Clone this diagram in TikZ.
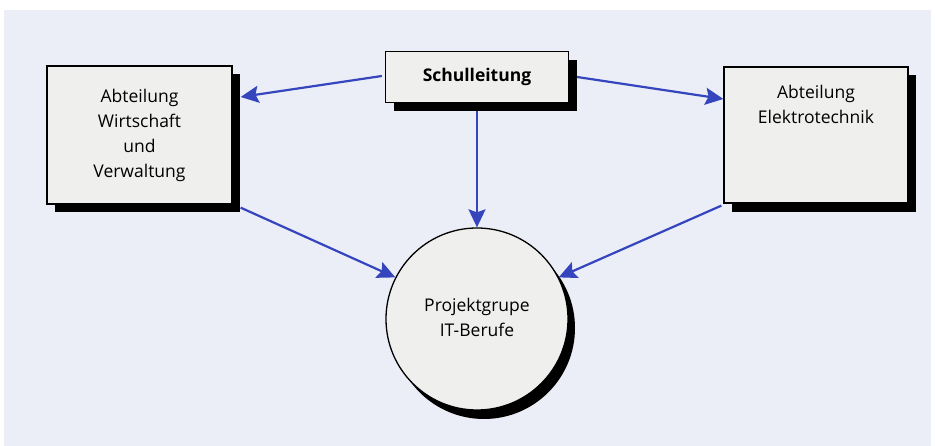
\documentclass[tikz,border=0pt]{standalone}
\usepackage{fontspec}
\setmainfont{Open Sans}
\usetikzlibrary{arrows.meta,calc}
\definecolor{panel}{HTML}{EBEEF7}
\definecolor{boxfill}{HTML}{EFEFEE}
\definecolor{arrowblue}{HTML}{3545BE}
\tikzset{
  box/.style={draw=black, line width=1.3pt, fill=boxfill, rectangle, inner sep=0pt},
  shade8/.style={fill=black, draw=none},
  lbl/.style={align=center, font=\fontsize{17.5}{25}\selectfont, inner sep=0pt},
  conn/.style={draw=arrowblue, line width=2.2pt,
    -{Stealth[length=18pt,width=17pt,inset=3pt]}}
}
\begin{document}
\begin{tikzpicture}[x=1pt,y=-1pt]
  \useasboundingbox (0,0) rectangle (935,446);
  \fill[white] (0,0) rectangle (935,446);
  \fill[panel] (4,10) rectangle (931,446);

  % drop shadows
  \fill[shade8] (394,60) rectangle (577,111);
  \fill[shade8] (55,74) rectangle (240,212);
  \fill[shade8] (732,75) rectangle (916,212);
  \fill[shade8] (484,328) circle (91);

  % boxes
  \node[box, minimum width=183pt, minimum height=51pt] (sl) at (477,77) {};
  \node[box, minimum width=185pt, minimum height=138pt] (lw) at (139.5,135) {};
  \node[box, minimum width=184pt, minimum height=136pt] (et) at (816,135) {};
  \node[box, circle, minimum size=182pt] (pg) at (477,319) {};

  % labels
  \node[lbl, font=\fontsize{17.5}{25}\selectfont\bfseries] (slt) at (sl.center) {Schulleitung};
  \node[lbl] (lwt) at (lw.center) {Abteilung\\Wirtschaft\\und\\Verwaltung};
  \node[lbl, anchor=north] (ett) at ([yshift=-19pt]et.north) {Abteilung\\Elektrotechnik};
  \node[lbl] (pgt) at ([yshift=2pt]pg.center) {Projektgrupe\\IT-Berufe};

  % connectors
  \draw[conn] ([xshift=-3pt,yshift=1pt]sl.west) -- ([xshift=8pt,yshift=38pt]lw.east);
  \draw[conn] ([xshift=8pt]sl.east) -- ([yshift=36pt]et.west);
  \draw[conn] ([yshift=-8pt]sl.south) -- (pg.north);
  \draw[conn] ([xshift=8pt,yshift=-3pt]lw.south east) -- (pg.153);
  \draw[conn] ([xshift=-2pt,yshift=-2pt]et.south west) -- (pg.27);
\end{tikzpicture}
\end{document}
